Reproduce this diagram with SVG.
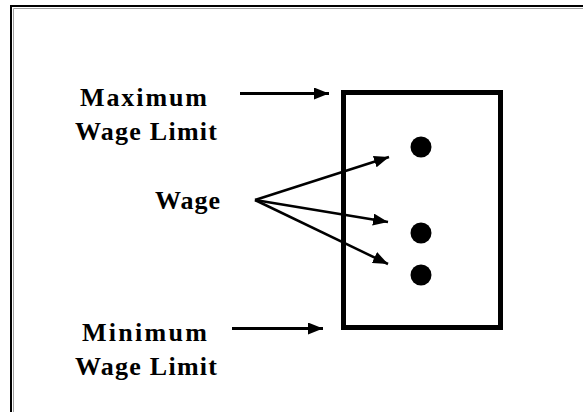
<svg xmlns="http://www.w3.org/2000/svg" width="583" height="412" viewBox="0 0 583 412">
<defs>
<marker id="ah" markerUnits="userSpaceOnUse" markerWidth="16" markerHeight="12" refX="15" refY="6" orient="auto">
<path d="M0,0 L15,6 L0,12 Z" fill="#000"/>
</marker>
</defs>
<rect width="583" height="412" fill="#fff"/>
<g id="frame">
<path d="M11,412 V6 H583" fill="none" stroke="#000" stroke-width="2"/>
<path d="M13.5,412 V8.5 H583" fill="none" stroke="#a0a0a0" stroke-width="1"/>
</g>
<g id="box">
<rect x="343.5" y="92.5" width="157" height="235" fill="none" stroke="#000" stroke-width="5"/>
</g>
<g id="dots" fill="#000">
<circle cx="421" cy="147" r="10.5"/>
<circle cx="421" cy="233" r="10.5"/>
<circle cx="421" cy="275" r="10.5"/>
</g>
<g font-family="Liberation Serif, Times New Roman, serif" font-weight="bold" font-size="26" fill="#000">
<g id="label-max">
<text x="80" y="106" textLength="127" lengthAdjust="spacing">Maximum</text>
<text x="75" y="140" textLength="142" lengthAdjust="spacing">Wage Limit</text>
</g>
<g id="label-wage">
<text x="155" y="209" textLength="65" lengthAdjust="spacing">Wage</text>
</g>
<g id="label-min">
<text x="82" y="341" textLength="125" lengthAdjust="spacing">Minimum</text>
<text x="75" y="375" textLength="142" lengthAdjust="spacing">Wage Limit</text>
</g>
</g>
<g id="connectors" stroke="#000" fill="none">
<line x1="240" y1="93.5" x2="329" y2="93.5" stroke-width="3" marker-end="url(#ah)"/>
<line x1="232" y1="328.5" x2="323" y2="328.5" stroke-width="3" marker-end="url(#ah)"/>
<line x1="255" y1="200" x2="389" y2="157" stroke-width="2.5" marker-end="url(#ah)"/>
<line x1="255" y1="200" x2="388" y2="222" stroke-width="2.5" marker-end="url(#ah)"/>
<line x1="255" y1="200" x2="388" y2="264" stroke-width="2.5" marker-end="url(#ah)"/>
</g>
</svg>
